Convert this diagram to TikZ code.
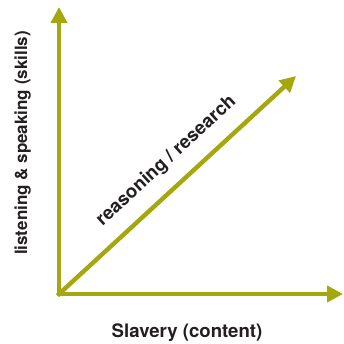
\documentclass[tikz,border=0pt]{standalone}
\usepackage{fontspec}
\setmainfont{TeX Gyre Heros}
\usepackage{xcolor}
\usepackage{tikz}
\usetikzlibrary{arrows.meta}
\definecolor{olive}{HTML}{A4A80E}
\definecolor{ink}{HTML}{231F20}
\tikzset{
  axis/.style={draw=olive, line width=4.4pt, line cap=rect,
    -{Triangle[length=16pt,width=16pt]}},
  lab/.style={text=ink, font=\bfseries\fontsize{18.6}{20}\selectfont, inner sep=0pt},
}
\begin{document}
\begin{tikzpicture}[x=1pt,y=1pt]
  \useasboundingbox (0,0) rectangle (344,344);
  \coordinate (O) at (59,50);
  \coordinate (Y) at (59,337);
  \coordinate (X) at (343,50);
  \coordinate (D) at (296,268);
  \draw[axis] (O) -- (Y);
  \draw[axis] (O) -- (X);
  \draw[axis] (O) -- (D)
    node[lab, pos=0.525, sloped, above=14pt] (reason) {reasoning / research};
  \node[lab, anchor=base] (content) at (187,6) {Slavery (content)};
  \node[lab, anchor=base, rotate=90, font=\bfseries\fontsize{17}{20}\selectfont] (skills) at (27,201) {listening \& speaking (skills)};
\end{tikzpicture}
\end{document}
